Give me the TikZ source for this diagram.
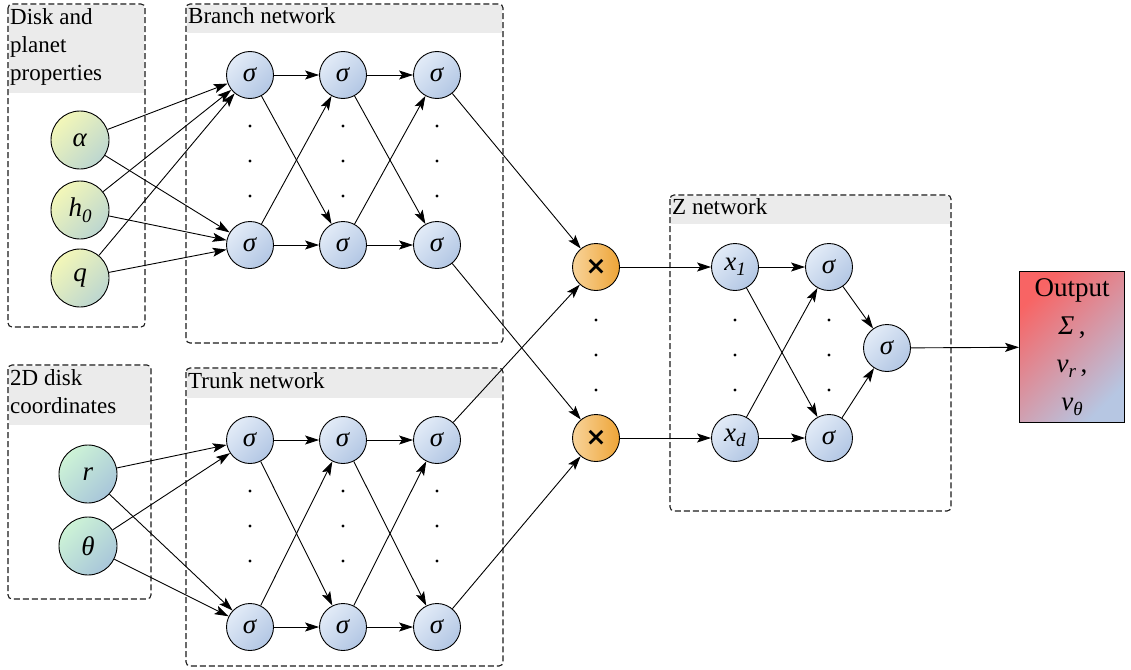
\documentclass[tikz,border=0pt]{standalone}
\usepackage{fontspec}
\setmainfont{Liberation Serif}
\newfontfamily\symfont{DejaVu Sans}
\usetikzlibrary{arrows.meta}

\definecolor{sigA}{HTML}{E2EBF7}
\definecolor{sigB}{HTML}{B3C7E4}
\definecolor{inA}{HTML}{F3F7B8}
\definecolor{inB}{HTML}{BCD6D0}
\definecolor{crA}{HTML}{CDF3D6}
\definecolor{crB}{HTML}{A8C6DA}
\definecolor{mulA}{HTML}{F8D49A}
\definecolor{mulB}{HTML}{EEA437}
\definecolor{outA}{HTML}{F86464}
\definecolor{outB}{HTML}{B6C6E2}
\definecolor{hdrgray}{HTML}{EBEBEB}
\definecolor{boxgray}{HTML}{1A1A1A}

% lowered italic subscript
\newcommand{\sbs}[1]{\raisebox{-0.45ex}{\fontsize{19}{19}\selectfont\textit{#1}}}

\tikzset{
	every node/.style={font=\fontsize{23}{28}\selectfont},
	neuron/.style={circle, draw, line width=0.9pt, minimum size=47pt, inner sep=0pt,
		left color=sigA, right color=sigB, shading angle=45, font=\fontsize{27}{30}\selectfont},
	inneuron/.style={neuron, minimum size=58pt, left color=inA, right color=inB, shading angle=45},
	crneuron/.style={neuron, minimum size=58pt, left color=crA, right color=crB, shading angle=45},
	mulneuron/.style={neuron, left color=mulA, right color=mulB, shading angle=90,
		font=\symfont\bfseries\fontsize{25}{26}\selectfont},
	outbox/.style={draw, line width=0.9pt, minimum width=105pt, minimum height=151pt,
		left color=outA, right color=outB, shading angle=45, align=center,
		font=\fontsize{27}{38}\selectfont, inner sep=2pt},
	grpbox/.style={draw=boxgray, dash pattern=on 6pt off 3pt, line width=1.1pt, rounded corners=4pt},
	hdr/.style={fill=hdrgray},
	hdrtext/.style={anchor=north west, align=left, inner sep=2pt},
	conn/.style={line width=0.9pt, -{Stealth[length=14pt, width=9pt, inset=3pt]}},
	dot/.style={fill=black}
}

\begin{document}
\begin{tikzpicture}[x=1pt, y=-1pt]
	\useasboundingbox (0,0) rectangle (1131,669);

	% group frames
	\fill[hdr] (9,5) rectangle (144,93);
	\draw[grpbox] (8,4) rectangle (145,327);
	\node[hdrtext] (hin) at (8,6) {Disk and\\planet\\properties};
	\fill[hdr] (187,5) rectangle (502,33);
	\draw[grpbox] (186,4) rectangle (503,343);
	\node[hdrtext] (hbr) at (186,5) {Branch network};
	\fill[hdr] (9,366) rectangle (150,425);
	\draw[grpbox] (8,365) rectangle (151,599);
	\node[hdrtext] (hco) at (8,367) {2D disk\\coordinates};
	\fill[hdr] (187,369) rectangle (502,398);
	\draw[grpbox] (186,368) rectangle (503,666);
	\node[hdrtext] (htr) at (186,370) {Trunk network};
	\fill[hdr] (671,196) rectangle (950,224);
	\draw[grpbox] (670,195) rectangle (951,511);
	\node[hdrtext] (hz) at (670,196) {Z network};

	% inputs
	\node[inneuron] (a) at (80,140) {\textit{α}};
	\node[inneuron] (h) at (80,210) {\textit{h}\sbs{0}};
	\node[inneuron] (q) at (80,278) {\textit{q}};
	\node[crneuron] (r) at (88,474) {\textit{r}};
	\node[crneuron] (th) at (88,546) {\textit{θ}};

	% branch and trunk layers
	\foreach \i/\x in {1/250, 2/343, 3/437} {
		\node[neuron] (bt\i) at (\x,75) {\textit{σ}};
		\node[neuron] (bb\i) at (\x,245) {\textit{σ}};
		\node[neuron] (tt\i) at (\x,440) {\textit{σ}};
		\node[neuron] (tb\i) at (\x,627) {\textit{σ}};
		\foreach \y in {126,161,196,491,526,561}
			\fill[dot] (\x,\y) circle (1.6);
	}

	% merge
	\node[mulneuron] (m1) at (596,267) {×};
	\node[mulneuron] (m2) at (596,438) {×};

	% Z network
	\node[neuron] (x1) at (735,267) {\textit{x}\sbs{1}};
	\node[neuron] (xd) at (735,438) {\textit{x}\sbs{d}};
	\node[neuron] (za) at (829,267) {\textit{σ}};
	\node[neuron] (zb) at (829,438) {\textit{σ}};
	\node[neuron] (zf) at (887,348) {\textit{σ}};
	\foreach \x in {596,735,829}
		\foreach \y in {320,355,390}
			\fill[dot] (\x,\y) circle (1.6);

	\node[outbox] (out) at (1072,347) {Output\\\textit{Σ}\,,\\\textit{v}\sbs{r}\,,\\\textit{v}\sbs{θ}};

	% connections
	\foreach \s in {a,h,q} {
		\draw[conn] (\s) -- (bt1);
		\draw[conn] (\s) -- (bb1);
	}
	\foreach \s in {r,th} {
		\draw[conn] (\s) -- (tt1);
		\draw[conn] (\s) -- (tb1);
	}
	\foreach \i/\j in {1/2, 2/3} {
		\draw[conn] (bt\i) -- (bt\j);
		\draw[conn] (bt\i) -- (bb\j);
		\draw[conn] (bb\i) -- (bt\j);
		\draw[conn] (bb\i) -- (bb\j);
		\draw[conn] (tt\i) -- (tt\j);
		\draw[conn] (tt\i) -- (tb\j);
		\draw[conn] (tb\i) -- (tt\j);
		\draw[conn] (tb\i) -- (tb\j);
	}
	\draw[conn] (bt3) -- (m1);
	\draw[conn] (bb3) -- (m2);
	\draw[conn] (tt3) -- (m1);
	\draw[conn] (tb3) -- (m2);
	\draw[conn] (m1) -- (x1);
	\draw[conn] (m2) -- (xd);
	\draw[conn] (x1) -- (za);
	\draw[conn] (x1) -- (zb);
	\draw[conn] (xd) -- (za);
	\draw[conn] (xd) -- (zb);
	\draw[conn] (za) -- (zf);
	\draw[conn] (zb) -- (zf);
	\draw[conn] (zf) -- (out);
\end{tikzpicture}
\end{document}
